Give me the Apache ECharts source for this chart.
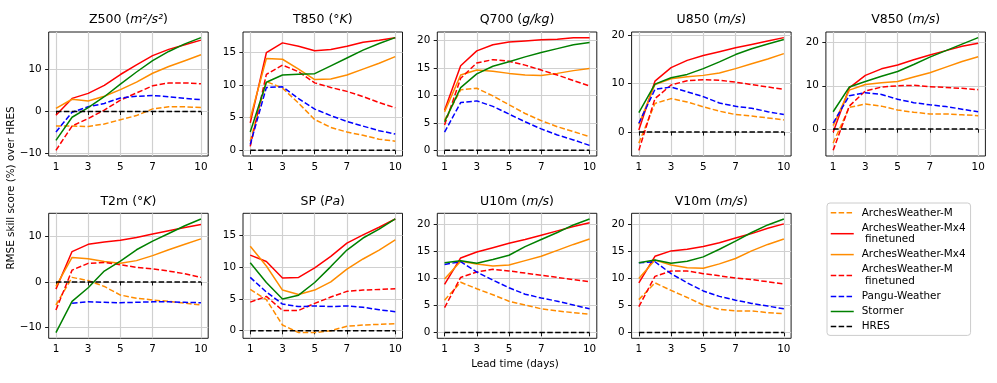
<!DOCTYPE html>
<html>
<head>
<meta charset="utf-8">
<script src="https://cdn.jsdelivr.net/npm/echarts@6/dist/echarts.min.js"></script>
<style>
  html, body { margin: 0; padding: 0; background: #fff; }
  #chart { width: 997px; height: 383px; }
</style>
</head>
<body>
<div id="chart"></div>
<script>
// lead time (days)
const days = [1, 2, 3, 4, 5, 6, 7, 8, 9, 10];
const xTicks = [1, 3, 5, 7, 10];

// panel order: Z500, T850, Q700, U850, V850, T2m, SP, U10m, V10m
const panelNames = ['Z500', 'T850', 'Q700', 'U850', 'V850', 'T2m', 'SP', 'U10m', 'V10m'];
const panelUnits = ['m²/s²', '°K', 'g/kg', 'm/s', 'm/s', '°K', 'Pa', 'm/s', 'm/s'];
const yTicks = [
  [-10, 0, 10], [0, 5, 10, 15], [0, 5, 10, 15, 20], [0, 10, 20], [0, 10, 20],
  [-10, 0, 10], [0, 5, 10, 15], [0, 5, 10, 15, 20], [0, 5, 10, 15, 20]
];

// RMSE skill score (%) over HRES, one row per panel
const archesM = [
  [-3.5, -3.5, -3.6, -3.0, -2.0, -1.0, 0.6, 1.1, 1.1, 0.9],
  [1.4, 10.5, 9.5, 7.2, 4.7, 3.5, 2.8, 2.3, 1.7, 1.4],
  [5.5, 11.0, 11.3, 9.9, 8.3, 6.7, 5.4, 4.3, 3.4, 2.5],
  [-2.3, 5.9, 6.9, 6.2, 5.2, 4.3, 3.6, 3.3, 2.9, 2.5],
  [-3.2, 5.0, 5.8, 5.3, 4.4, 3.9, 3.5, 3.5, 3.3, 3.1],
  [-5.1, 1.0, 0.3, -1.0, -2.9, -3.6, -4.0, -4.3, -4.7, -5.1],
  [6.5, 4.9, 0.9, -0.3, -0.3, 0.0, 0.7, 0.9, 1.0, 1.1],
  [6.0, 9.3, 8.1, 7.0, 5.8, 5.1, 4.4, 4.0, 3.7, 3.4],
  [6.1, 9.2, 7.8, 6.5, 5.1, 4.3, 4.0, 4.0, 3.7, 3.5]
];
const archesMx4Ft = [
  [-0.9, 3.1, 4.3, 6.2, 8.8, 11.1, 13.3, 14.8, 15.9, 17.0],
  [4.2, 14.9, 16.4, 15.9, 15.2, 15.4, 15.9, 16.5, 16.8, 17.2],
  [7.3, 15.4, 18.1, 19.2, 19.7, 19.9, 20.1, 20.2, 20.5, 20.5],
  [0.4, 10.5, 13.3, 14.8, 15.8, 16.6, 17.4, 18.1, 18.8, 19.5],
  [-0.7, 9.5, 12.4, 13.9, 14.8, 16.0, 17.1, 18.1, 19.1, 19.8],
  [-1.6, 6.7, 8.3, 8.8, 9.2, 9.8, 10.6, 11.3, 12.0, 12.7],
  [11.9, 10.9, 8.3, 8.4, 9.9, 11.7, 13.8, 15.1, 16.3, 17.6],
  [8.9, 13.8, 14.9, 15.7, 16.5, 17.2, 18.0, 18.8, 19.6, 20.3],
  [9.2, 14.1, 15.1, 15.4, 15.9, 16.6, 17.5, 18.3, 19.3, 20.1]
];
const archesMx4 = [
  [0.7, 2.9, 2.5, 3.6, 5.2, 7.0, 9.1, 10.7, 12.1, 13.5],
  [4.9, 14.0, 13.9, 12.4, 10.8, 10.9, 11.5, 12.4, 13.3, 14.3],
  [7.0, 13.7, 14.6, 14.4, 14.0, 13.7, 13.6, 14.0, 14.5, 14.9],
  [1.6, 9.8, 11.0, 11.4, 11.7, 12.2, 13.1, 14.1, 15.1, 16.2],
  [0.8, 9.0, 10.3, 10.7, 11.0, 12.0, 13.0, 14.3, 15.6, 16.7],
  [-1.0, 5.4, 5.1, 4.5, 4.1, 4.7, 5.8, 7.1, 8.3, 9.5],
  [13.3, 10.2, 6.4, 5.7, 6.4, 7.7, 9.7, 11.3, 12.7, 14.3],
  [9.9, 13.2, 12.7, 12.3, 12.5, 13.3, 14.1, 15.2, 16.3, 17.3],
  [10.0, 13.4, 12.5, 12.0, 11.9, 12.7, 13.7, 15.1, 16.3, 17.3]
];
const archesMFt = [
  [-9.3, -3.5, -1.7, 0.3, 2.7, 4.4, 6.1, 6.8, 6.8, 6.6],
  [0.6, 11.6, 13.0, 12.0, 10.3, 9.6, 9.0, 8.2, 7.3, 6.5],
  [4.6, 13.1, 15.9, 16.5, 16.2, 15.5, 14.6, 13.7, 12.7, 11.7],
  [-3.8, 6.9, 9.7, 10.6, 10.8, 10.7, 10.3, 9.8, 9.3, 8.8],
  [-4.9, 5.3, 8.8, 9.7, 10.0, 10.1, 9.8, 9.6, 9.4, 9.1],
  [-6.2, 2.6, 4.1, 4.3, 3.8, 3.2, 2.9, 2.4, 1.8, 1.0],
  [4.5, 5.4, 3.2, 3.2, 4.3, 5.3, 6.2, 6.4, 6.5, 6.6],
  [4.6, 10.2, 11.2, 11.7, 11.4, 11.0, 10.6, 10.2, 9.8, 9.4],
  [4.8, 10.4, 11.4, 11.4, 10.9, 10.5, 10.1, 9.8, 9.4, 9.0]
];
const pangu = [
  [-4.9, -0.2, 1.1, 1.9, 3.2, 3.6, 3.8, 3.5, 3.1, 2.8],
  [0.9, 9.6, 9.7, 7.9, 6.3, 5.3, 4.4, 3.7, 3.0, 2.5],
  [3.3, 8.7, 9.0, 8.0, 6.6, 5.2, 3.9, 2.8, 1.9, 0.9],
  [1.8, 8.8, 9.3, 8.3, 7.3, 6.0, 5.3, 4.9, 4.2, 3.6],
  [1.4, 7.7, 8.4, 8.0, 6.9, 6.1, 5.6, 5.2, 4.6, 4.0],
  [null, -4.7, -4.4, -4.5, -4.6, -4.5, -4.4, -4.4, -4.5, -4.6],
  [8.4, 6.1, 4.2, 3.8, 3.9, 3.8, 3.9, 3.7, 3.3, 3.0],
  [12.6, 13.1, 11.2, 9.7, 8.3, 7.1, 6.4, 5.8, 5.1, 4.4],
  [12.9, 13.1, 10.9, 9.2, 7.7, 6.7, 6.0, 5.4, 4.9, 4.4]
];
const stormer = [
  [-6.9, -1.4, 0.9, 3.5, 6.5, 9.4, 12.1, 14.3, 16.1, 17.6],
  [2.8, 10.4, 11.5, 11.6, 11.7, 12.9, 14.1, 15.3, 16.3, 17.2],
  [5.2, 11.4, 13.9, 15.3, 16.1, 17.0, 17.8, 18.5, 19.2, 19.6],
  [4.0, 9.9, 11.2, 11.9, 13.1, 14.5, 16.0, 17.2, 18.2, 19.1],
  [4.0, 9.7, 11.0, 12.2, 13.3, 14.9, 16.6, 18.1, 19.6, 21.1],
  [-11.2, -4.3, -1.3, 2.4, 4.6, 7.1, 9.0, 10.7, 12.4, 13.9],
  [10.7, 7.6, 5.0, 5.6, 7.6, 10.1, 12.7, 14.6, 16.0, 17.6],
  [12.9, 13.3, 12.8, 13.5, 14.3, 15.9, 17.2, 18.5, 19.9, 21.0],
  [12.9, 13.4, 12.8, 13.2, 14.0, 15.4, 16.9, 18.5, 19.9, 21.0]
];
const hres = [0, 0, 0, 0, 0, 0, 0, 0, 0, 0];

const font = 'DejaVu Sans';
const dash = [5.5, 2.4];
const models = [
  { name: 'ArchesWeather-M', rows: archesM, color: '#ff8c00', dashed: true },
  { name: 'ArchesWeather-Mx4 finetuned', rows: archesMx4Ft, color: '#ff0000', dashed: false },
  { name: 'ArchesWeather-Mx4', rows: archesMx4, color: '#ff8c00', dashed: false },
  { name: 'ArchesWeather-M finetuned', rows: archesMFt, color: '#ff0000', dashed: true },
  { name: 'Pangu-Weather', rows: pangu, color: '#0000ff', dashed: true },
  { name: 'Stormer', rows: stormer, color: '#008000', dashed: false },
  { name: 'HRES', rows: panelNames.map(() => hres), color: '#000000', dashed: true }
];

// plot areas
const gridLefts = [48.7, 243, 437.3, 631.6, 825.9];
const gridTops = [32, 213.3];
const gridHeights = [124, 125];
const gridWidth = 159.5;

const grids = [], xAxes = [], yAxes = [], series = [], graphics = [];
const minus = v => (v < 0 ? '\u2212' + Math.abs(v) : String(v));

panelNames.forEach((p, i) => {
  const row = i < 5 ? 0 : 1;
  const col = i % 5;
  const left = gridLefts[col];
  const top = gridTops[row];
  grids.push({
    left: left, top: top, width: gridWidth, height: gridHeights[row],
    show: true, borderColor: '#000', borderWidth: 0.9, backgroundColor: '#fff'
  });

  let lo = 0, hi = 0;
  models.forEach(m => m.rows[i].forEach(v => {
    if (v == null) return;
    lo = Math.min(lo, v); hi = Math.max(hi, v);
  }));
  const pad = (hi - lo) * 0.05;

  xAxes.push({
    type: 'value', gridIndex: i, min: 0.55, max: 10.45,
    axisLine: { show: false },
    axisTick: { customValues: xTicks, length: 3.6, lineStyle: { color: '#000', width: 0.9 } },
    axisLabel: { customValues: xTicks, margin: 6, fontFamily: font, fontSize: 10.4, color: '#000' },
    splitLine: { show: true, lineStyle: { color: '#d0d0d0', width: 1.2 } }
  });
  yAxes.push({
    type: 'value', gridIndex: i, min: lo - pad, max: hi + pad,
    axisLine: { show: false },
    axisTick: { customValues: yTicks[i], length: 3.6, lineStyle: { color: '#000', width: 0.9 } },
    axisLabel: { customValues: yTicks[i], margin: 7, fontFamily: font, fontSize: 10.4, color: '#000', formatter: minus },
    splitLine: { show: true, lineStyle: { color: '#d0d0d0', width: 1.2 } }
  });

  models.forEach(m => {
    series.push({
      type: 'line', name: m.name, xAxisIndex: i, yAxisIndex: i,
      data: days.map((d, k) => [d, m.rows[i][k] == null ? '-' : m.rows[i][k]]),
      symbol: 'none', silent: true,
      itemStyle: { color: m.color },
      lineStyle: { color: m.color, width: 1.5, type: m.dashed ? dash : 'solid' }
    });
  });

  graphics.push({
    type: 'text', x: left + gridWidth / 2, y: row === 0 ? 20 : 202,
    style: {
      text: '{n|' + p + ' (}{i|' + panelUnits[i] + '}{n|)}',
      rich: {
        n: { fontFamily: font, fontSize: 12.5, fill: '#000' },
        i: { fontFamily: font, fontSize: 12.5, fontStyle: 'italic', fill: '#000' }
      },
      fontFamily: font, fontSize: 12.5, align: 'center', verticalAlign: 'middle'
    }
  });
});

graphics.push({
  type: 'text', x: 11, y: 188, rotation: Math.PI / 2,
  style: { text: 'RMSE skill score (%) over HRES', fontFamily: font, fontSize: 10.4, fill: '#000', align: 'center', verticalAlign: 'middle' }
});
graphics.push({
  type: 'text', x: 515, y: 364,
  style: { text: 'Lead time (days)', fontFamily: font, fontSize: 10.4, fill: '#000', align: 'center', verticalAlign: 'middle' }
});

const chart = echarts.init(document.getElementById('chart'));
chart.setOption({
  animation: false,
  backgroundColor: '#fff',
  grid: grids,
  xAxis: xAxes,
  yAxis: yAxes,
  series: series,
  graphic: graphics,
  legend: {
    data: models.map(m => m.name),
    orient: 'vertical',
    left: 827, top: 203,
    padding: [4, 5, 3, 3],
    itemWidth: 23, itemHeight: 12, itemGap: 3.5,
    selectedMode: false,
    borderColor: '#cccccc', borderWidth: 1, borderRadius: 3,
    itemStyle: { color: 'rgba(0,0,0,0)', borderWidth: 0, opacity: 0 },
    lineStyle: { width: 1.5 },
    formatter: name => name.replace(' finetuned', '\n finetuned'),
    textStyle: { fontFamily: font, fontSize: 10.4, lineHeight: 11.6, color: '#000', padding: [0, 0, 0, 3] }
  }
});
</script>
</body>
</html>
